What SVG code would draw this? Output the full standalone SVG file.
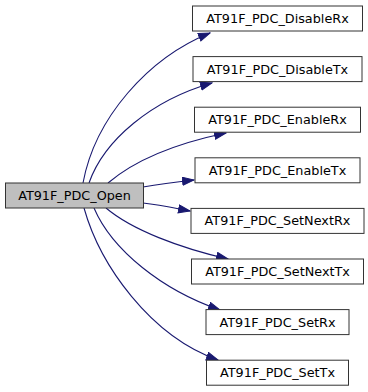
<svg xmlns="http://www.w3.org/2000/svg" width="368" height="392" viewBox="0 0 368 392">
  <style>
    .node rect { fill: #ffffff; stroke: #333333; stroke-width: 1; }
    .node.root rect { fill: #bfbfbf; }
    .node text { font-family: "DejaVu Sans", "Liberation Sans", sans-serif; font-size: 12.8px; fill: #000000; text-anchor: middle; }
    .edges path { fill: none; stroke: #191970; stroke-width: 1.1; marker-end: url(#arrow); }
  </style>
  <defs>
    <marker id="arrow" markerUnits="userSpaceOnUse" markerWidth="13" markerHeight="10" refX="12" refY="4.5" orient="auto">
      <path d="M0.5,0.5 L12,4.5 L0.5,8.5 Z" fill="#191970" stroke="#191970" stroke-width="1"/>
    </marker>
  </defs>
  <rect width="368" height="392" fill="#ffffff"/>

  <!-- calls from AT91F_PDC_Open -->
  <g id="edges" class="edges">
    <path d="M83,183 C95,118 148,58 210,33"/>
    <path d="M89,183 C104,140 152,100 212,83"/>
    <path d="M108,183 C135,160 178,143 226,133"/>
    <path d="M143,187 C160,184 176,182 194,180"/>
    <path d="M143,203 C160,205 174,208 190,211"/>
    <path d="M106,208 C132,230 180,248 228,259"/>
    <path d="M94,208 C112,250 162,290 220,310"/>
    <path d="M84,208 C100,265 150,336 218,360"/>
  </g>

  <g id="AT91F_PDC_Open" class="node root">
    <rect x="5.5" y="183" width="138" height="25"/>
    <text x="74.5" y="200">AT91F_PDC_Open</text>
  </g>
  <g id="AT91F_PDC_DisableRx" class="node">
    <rect x="192.5" y="6" width="170" height="25"/>
    <text x="277.5" y="23">AT91F_PDC_DisableRx</text>
  </g>
  <g id="AT91F_PDC_DisableTx" class="node">
    <rect x="193" y="56.6" width="169" height="25"/>
    <text x="277.5" y="73.6">AT91F_PDC_DisableTx</text>
  </g>
  <g id="AT91F_PDC_EnableRx" class="node">
    <rect x="194.5" y="107.2" width="166" height="25"/>
    <text x="277.5" y="124.2">AT91F_PDC_EnableRx</text>
  </g>
  <g id="AT91F_PDC_EnableTx" class="node">
    <rect x="195" y="157.8" width="165" height="25"/>
    <text x="277.5" y="174.8">AT91F_PDC_EnableTx</text>
  </g>
  <g id="AT91F_PDC_SetNextRx" class="node">
    <rect x="191" y="208.4" width="173" height="25"/>
    <text x="277.5" y="225.4">AT91F_PDC_SetNextRx</text>
  </g>
  <g id="AT91F_PDC_SetNextTx" class="node">
    <rect x="191.5" y="259" width="172" height="25"/>
    <text x="277.5" y="276">AT91F_PDC_SetNextTx</text>
  </g>
  <g id="AT91F_PDC_SetRx" class="node">
    <rect x="206" y="309.6" width="143" height="25"/>
    <text x="277.5" y="326.6">AT91F_PDC_SetRx</text>
  </g>
  <g id="AT91F_PDC_SetTx" class="node">
    <rect x="206.5" y="360.2" width="142" height="25"/>
    <text x="277.5" y="377.2">AT91F_PDC_SetTx</text>
  </g>
</svg>
